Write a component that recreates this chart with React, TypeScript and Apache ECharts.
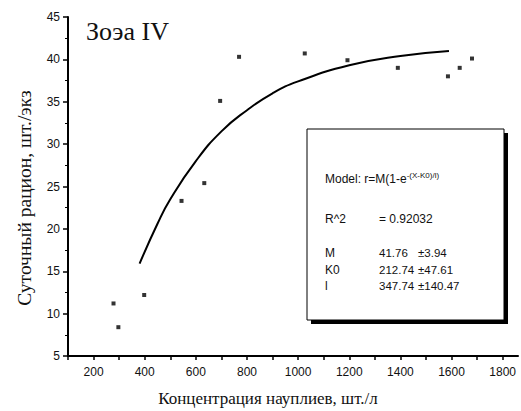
import React, { useEffect, useRef } from "react";
import * as echarts from "echarts";

// Observed data points: concentration of nauplii (ind./l) vs daily ration (ind./ind.)
const concentration = [278, 297, 398, 544, 633, 695, 769, 1026, 1193, 1390, 1586, 1632, 1680];
const ration = [11.2, 8.4, 12.2, 23.3, 25.4, 35.1, 40.3, 40.7, 39.9, 39.0, 38.0, 39.0, 40.1];

// Fitted curve
const curveX = [380, 450, 500, 600, 700, 800, 900, 1000, 1200, 1400, 1590];
const curveY = [15.9, 20.6, 23.5, 28.0, 31.5, 34.0, 36.0, 37.4, 39.3, 40.4, 41.0];

const titleText = "Зоэа IV";
const xName = "Концентрация науплиев, шт./л";
const yName = "Суточный рацион, шт./экз";

const legendRows = [
  ["M", "41.76", "±3.94"],
  ["K0", "212.74", "±47.61"],
  ["l", "347.74", "±140.47"],
];
const r2Label = "R^2";
const r2Value = "= 0.92032";

const sans = "'Liberation Sans', Arial, sans-serif";
const serif = "'Liberation Serif', 'DejaVu Serif', serif";

export default function App() {
  const ref = useRef<HTMLDivElement>(null);
  useEffect(() => {
    if (!ref.current) return;
    const chart = echarts.init(ref.current, undefined, { renderer: "svg" });
    const legendTexts: any[] = [];
    legendRows.forEach((row, i) => {
      const y = 253 + i * 16.5;
      legendTexts.push(
        { type: "text", x: 325, y, style: { text: row[0], font: `12px ${sans}`, fill: "#111", verticalAlign: "middle" } },
        { type: "text", x: 379, y, style: { text: row[1], font: `11.5px ${sans}`, fill: "#111", verticalAlign: "middle" } },
        { type: "text", x: 418, y, style: { text: row[2], font: `11.5px ${sans}`, fill: "#111", verticalAlign: "middle" } }
      );
    });
    chart.setOption({
      animation: false,
      backgroundColor: "#fff",
      grid: { left: 68, right: 3, top: 17, bottom: 55 },
      xAxis: {
        type: "value",
        min: 100,
        max: 1860,
        interval: 100,
        axisLine: { lineStyle: { color: "#000", width: 2 } },
        axisTick: { inside: false, length: 4, lineStyle: { color: "#000", width: 1.5 } },
        axisLabel: {
          margin: 10,
          color: "#111",
          fontSize: 12,
          fontFamily: sans,
          showMaxLabel: false,
          formatter: (v: number) => (v % 200 === 0 ? String(v) : ""),
        },
        splitLine: { show: false },
      },
      yAxis: {
        type: "value",
        min: 5,
        max: 45,
        interval: 5,
        axisLine: { show: true, lineStyle: { color: "#000", width: 2 } },
        axisTick: { show: true, inside: false, length: 5, lineStyle: { color: "#000", width: 1.5 } },
        minorTick: { show: true, splitNumber: 2, length: 3, lineStyle: { color: "#000", width: 1 } },
        axisLabel: { margin: 8, color: "#111", fontSize: 12, fontFamily: sans },
        splitLine: { show: false },
      },
      series: [
        {
          type: "line",
          data: curveX.map((x, i) => [x, curveY[i]]),
          smooth: true,
          showSymbol: false,
          lineStyle: { color: "#000", width: 2 },
          z: 2,
        },
        {
          type: "scatter",
          data: concentration.map((x, i) => [x, ration[i]]),
          symbol: "rect",
          symbolSize: 4,
          itemStyle: { color: "#000" },
          z: 3,
        },
      ],
      graphic: [
        { type: "text", x: 86, y: 31, style: { text: titleText, font: `26px ${serif}`, fill: "#111", verticalAlign: "middle" } },
        { type: "text", x: 268, y: 398, style: { text: xName, font: `17px ${serif}`, fill: "#111", align: "center", verticalAlign: "middle" } },
        { type: "text", x: 24, y: 198, rotation: Math.PI / 2, style: { text: yName, font: `19.5px ${serif}`, fill: "#111", align: "center", verticalAlign: "middle" } },
        { type: "rect", shape: { x: 311, y: 133, width: 197, height: 191 }, style: { fill: "#000" }, z: 10 },
        { type: "rect", shape: { x: 307, y: 129, width: 197, height: 191 }, style: { fill: "#fff", stroke: "#000", lineWidth: 1 }, z: 11 },
        {
          type: "text",
          x: 325,
          y: 179,
          z: 12,
          style: {
            text: "{a|Model: r=M(1-e}{b|-(X-K0)/l)}",
            rich: {
              a: { font: `12px ${sans}`, fill: "#111" } as any,
              b: { font: `8px ${sans}`, fill: "#111", padding: [0, 0, 8, 0] } as any,
            },
            verticalAlign: "middle",
          },
        },
        { type: "text", x: 325, y: 219, z: 12, style: { text: r2Label, font: `12px ${sans}`, fill: "#111", verticalAlign: "middle" } },
        { type: "text", x: 379, y: 219, z: 12, style: { text: r2Value, font: `12px ${sans}`, fill: "#111", verticalAlign: "middle" } },
        ...legendTexts.map((t) => ({ ...t, z: 12 })),
      ],
    });
    return () => chart.dispose();
  }, []);
  return <div ref={ref} style={{ position: "fixed", left: 0, top: 0, width: 521, height: 411 }} />;
}
